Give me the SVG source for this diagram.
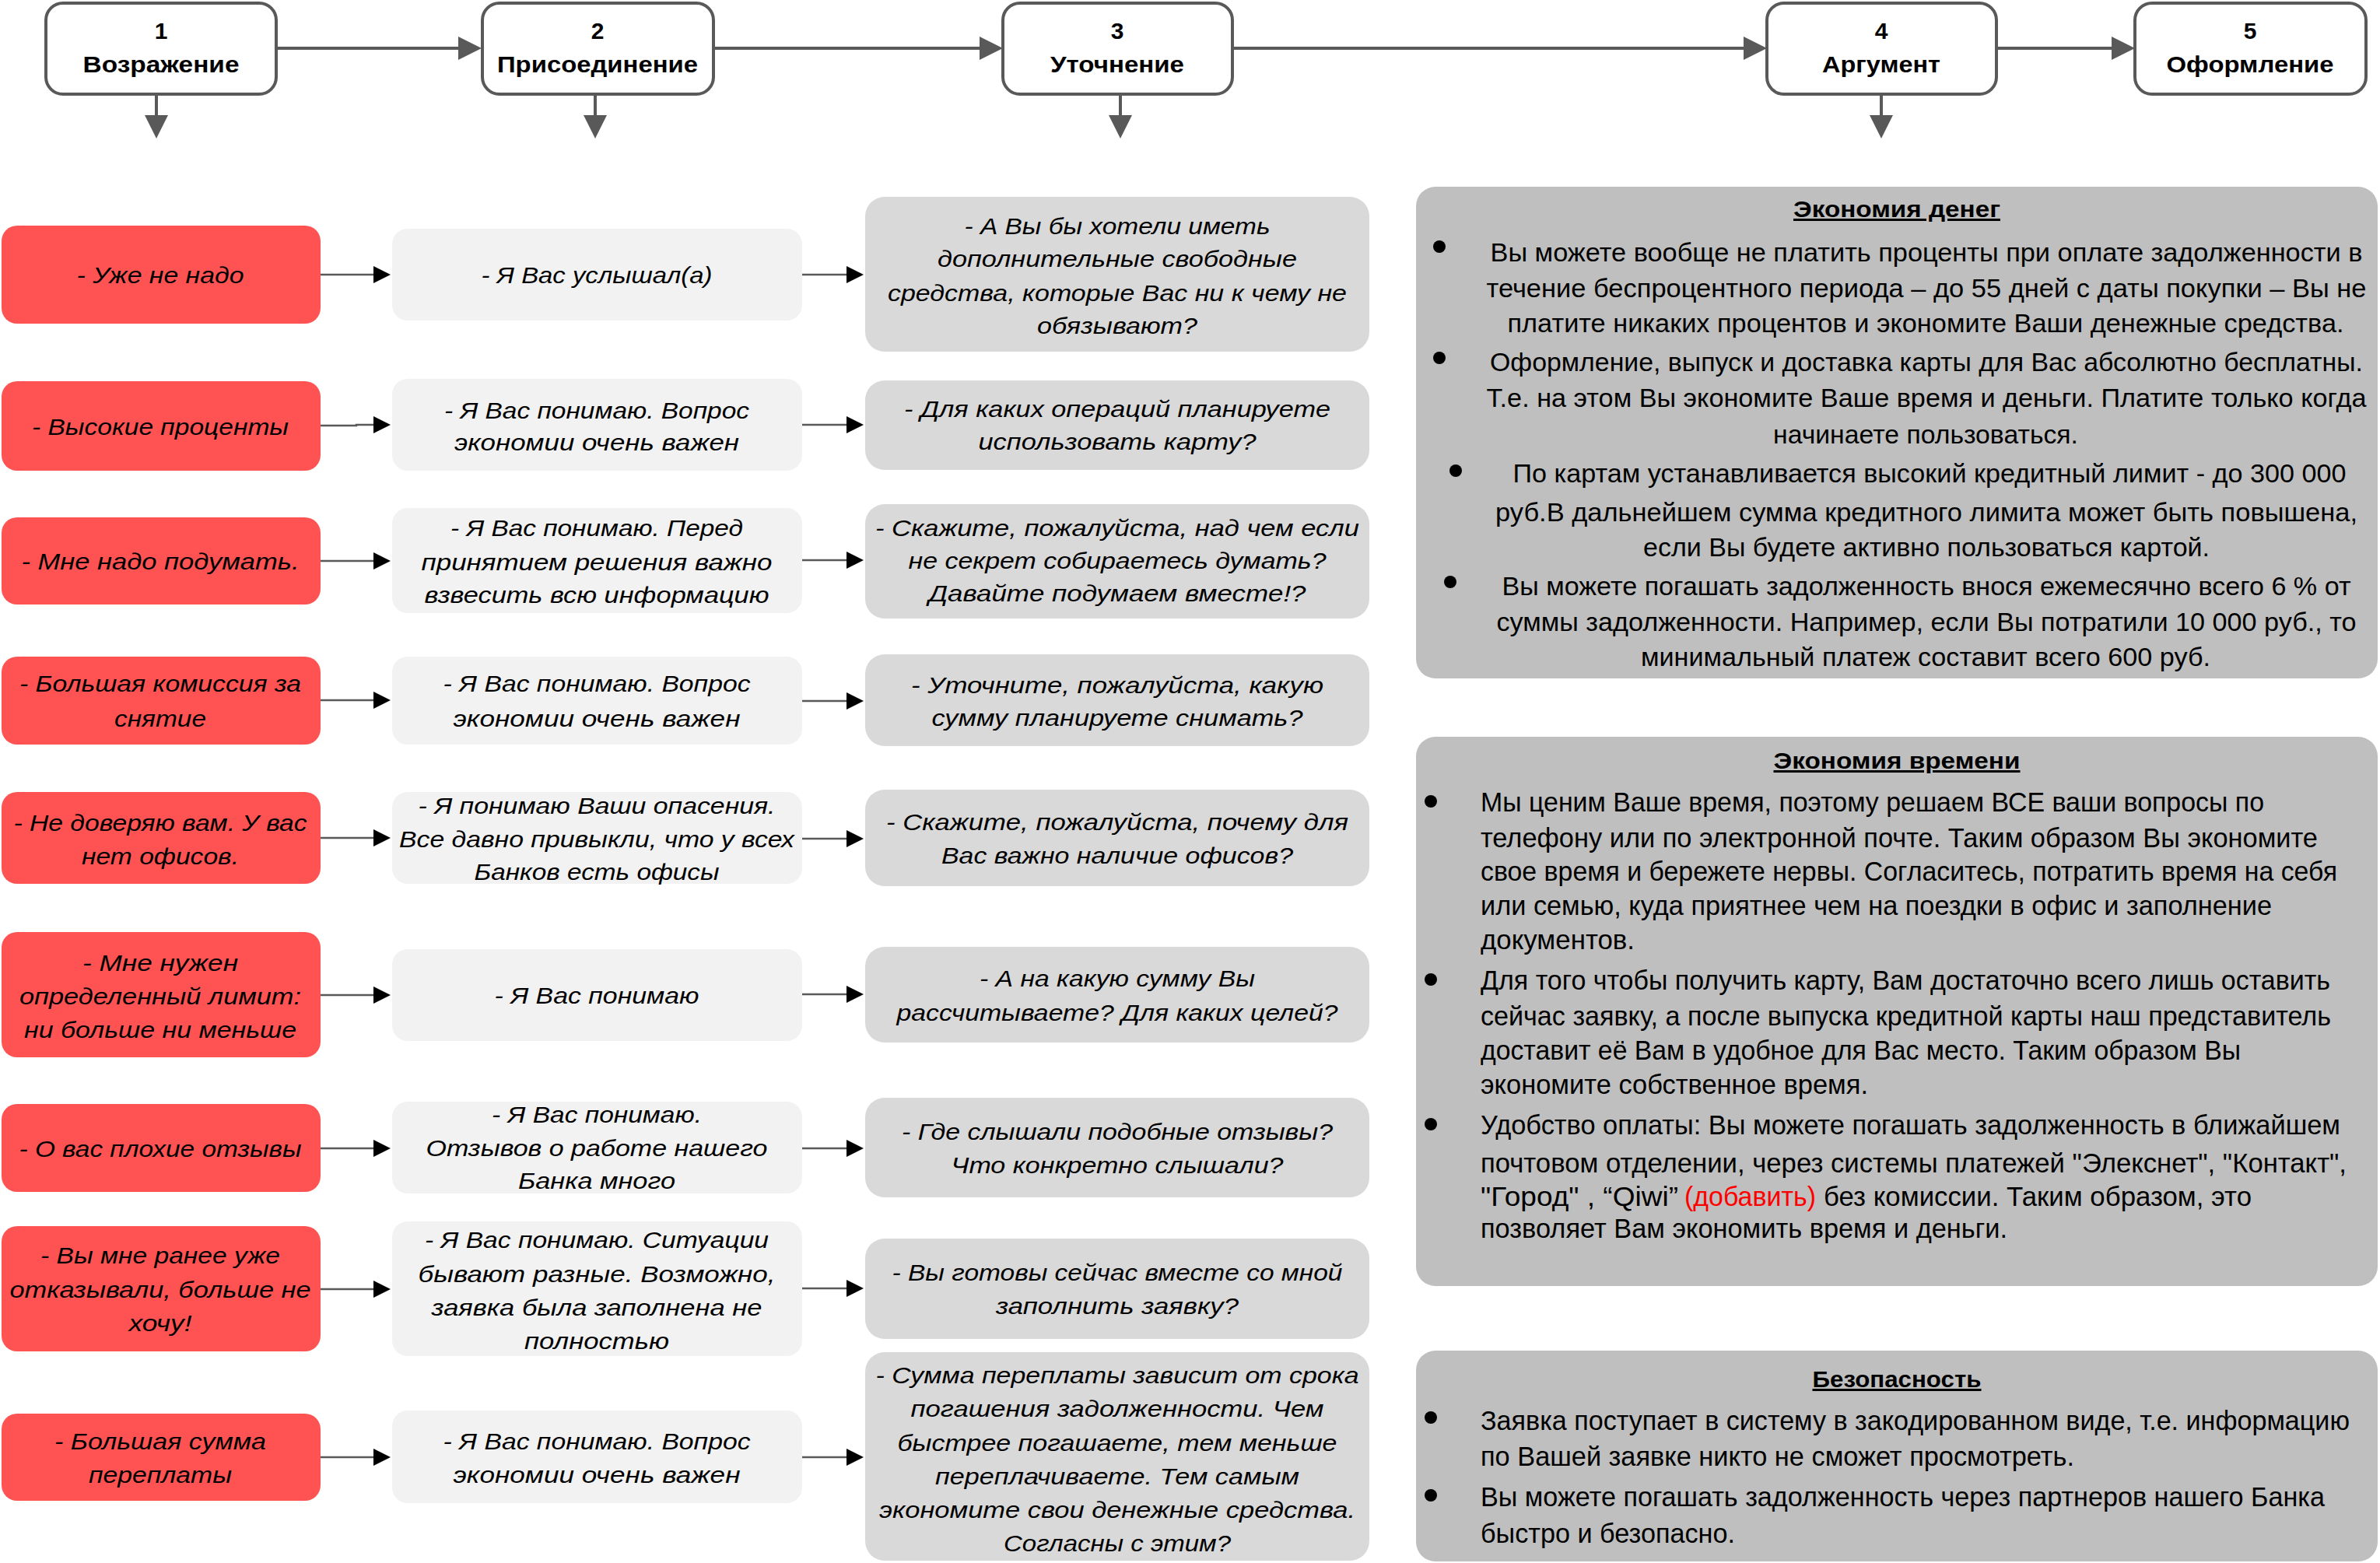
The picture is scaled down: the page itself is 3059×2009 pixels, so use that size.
<svg xmlns="http://www.w3.org/2000/svg" width="3059" height="2009" viewBox="0 0 3059 2009">
<style>
text{font-family:'Liberation Sans',Arial,sans-serif;fill:#000}
.hd{fill:#fff;stroke:#595959;stroke-width:4}
.r{fill:#FF5353}.m{fill:#F2F2F2}.q{fill:#D9D9D9}.p{fill:#BFBFBF}
.hn{font-weight:bold;font-size:30px;text-anchor:middle}
.ti{font-style:italic;font-size:30px;text-anchor:middle}
.tb{font-size:35px}
.tc{font-size:33px;text-anchor:middle}
.tt{font-weight:bold;font-size:30px;text-anchor:middle;text-decoration:underline}
.big{fill:none;stroke:#595959;stroke-width:4}
.sm{fill:none;stroke:#595959;stroke-width:2.5}
.red{fill:#FF0000}
</style>
<defs>
<marker id="ab" markerUnits="userSpaceOnUse" viewBox="0 0 30 30" markerWidth="30" markerHeight="30" refX="20" refY="15" orient="auto"><path d="M0,0 L30,15 L0,30 z" fill="#595959"/></marker>
<marker id="as" markerUnits="userSpaceOnUse" viewBox="0 0 22 22" markerWidth="22" markerHeight="22" refX="12" refY="11" orient="auto"><path d="M0,0 L22,11 L0,22 z" fill="#000"/></marker>
</defs>
<rect width="3059" height="2009" fill="#fff"/>

<g id="connectors">
<line class="big" x1="355" y1="62" x2="609" y2="62" marker-end="url(#ab)"/>
<line class="big" x1="917" y1="62" x2="1279" y2="62" marker-end="url(#ab)"/>
<line class="big" x1="1584" y1="62" x2="2261" y2="62" marker-end="url(#ab)"/>
<line class="big" x1="2566" y1="62" x2="2734" y2="62" marker-end="url(#ab)"/>
<line class="big" x1="201" y1="121" x2="201" y2="168" marker-end="url(#ab)"/>
<line class="big" x1="765" y1="121" x2="765" y2="168" marker-end="url(#ab)"/>
<line class="big" x1="1440" y1="121" x2="1440" y2="168" marker-end="url(#ab)"/>
<line class="big" x1="2418" y1="121" x2="2418" y2="168" marker-end="url(#ab)"/>
<line class="sm" x1="412" y1="353" x2="492" y2="353" marker-end="url(#as)"/>
<line class="sm" x1="1031" y1="353" x2="1100" y2="353" marker-end="url(#as)"/>
<polyline class="sm" points="412,547 458,547 458,546 492,546" marker-end="url(#as)"/>
<line class="sm" x1="1031" y1="546" x2="1100" y2="546" marker-end="url(#as)"/>
<line class="sm" x1="412" y1="721" x2="492" y2="721" marker-end="url(#as)"/>
<line class="sm" x1="1031" y1="720" x2="1100" y2="720" marker-end="url(#as)"/>
<line class="sm" x1="412" y1="900" x2="492" y2="900" marker-end="url(#as)"/>
<line class="sm" x1="1031" y1="901" x2="1100" y2="901" marker-end="url(#as)"/>
<line class="sm" x1="412" y1="1077" x2="492" y2="1077" marker-end="url(#as)"/>
<line class="sm" x1="1031" y1="1078" x2="1100" y2="1078" marker-end="url(#as)"/>
<line class="sm" x1="412" y1="1279" x2="492" y2="1279" marker-end="url(#as)"/>
<line class="sm" x1="1031" y1="1278" x2="1100" y2="1278" marker-end="url(#as)"/>
<line class="sm" x1="412" y1="1476" x2="492" y2="1476" marker-end="url(#as)"/>
<line class="sm" x1="1031" y1="1476" x2="1100" y2="1476" marker-end="url(#as)"/>
<line class="sm" x1="412" y1="1657" x2="492" y2="1657" marker-end="url(#as)"/>
<line class="sm" x1="1031" y1="1656" x2="1100" y2="1656" marker-end="url(#as)"/>
<line class="sm" x1="412" y1="1873" x2="492" y2="1873" marker-end="url(#as)"/>
<line class="sm" x1="1031" y1="1873" x2="1100" y2="1873" marker-end="url(#as)"/>
</g>

<g id="step1"><rect class="hd" x="59" y="4" width="296" height="117" rx="22"/><text class="hn" x="207" y="50">1</text><text class="hn" x="207" y="93" textLength="201" lengthAdjust="spacingAndGlyphs">Возражение</text></g>
<g id="step2"><rect class="hd" x="620" y="4" width="297" height="117" rx="22"/><text class="hn" x="768" y="50">2</text><text class="hn" x="768" y="93" textLength="258" lengthAdjust="spacingAndGlyphs">Присоединение</text></g>
<g id="step3"><rect class="hd" x="1289" y="4" width="295" height="117" rx="22"/><text class="hn" x="1436" y="50">3</text><text class="hn" x="1436" y="93" textLength="172" lengthAdjust="spacingAndGlyphs">Уточнение</text></g>
<g id="step4"><rect class="hd" x="2271" y="4" width="295" height="117" rx="22"/><text class="hn" x="2418" y="50">4</text><text class="hn" x="2418" y="93" textLength="152" lengthAdjust="spacingAndGlyphs">Аргумент</text></g>
<g id="step5"><rect class="hd" x="2744" y="4" width="297" height="117" rx="22"/><text class="hn" x="2892" y="50">5</text><text class="hn" x="2892" y="93" textLength="215" lengthAdjust="spacingAndGlyphs">Оформление</text></g>

<g id="obj1"><rect class="r" x="2" y="290" width="410" height="126" rx="20"/><text class="ti" x="206" y="364" textLength="215" lengthAdjust="spacingAndGlyphs">- Уже не надо</text></g>
<g id="obj2"><rect class="r" x="2" y="490" width="410" height="115" rx="20"/><text class="ti" x="206" y="559" textLength="330" lengthAdjust="spacingAndGlyphs">- Высокие проценты</text></g>
<g id="obj3"><rect class="r" x="2" y="665" width="410" height="112" rx="20"/><text class="ti" x="206" y="732" textLength="357" lengthAdjust="spacingAndGlyphs">- Мне надо подумать.</text></g>
<g id="obj4"><rect class="r" x="2" y="844" width="410" height="113" rx="20"/><text class="ti" x="206" y="889" textLength="362" lengthAdjust="spacingAndGlyphs">- Большая комиссия за</text><text class="ti" x="206" y="934" textLength="118" lengthAdjust="spacingAndGlyphs">снятие</text></g>
<g id="obj5"><rect class="r" x="2" y="1018" width="410" height="118" rx="20"/><text class="ti" x="206" y="1068" textLength="377" lengthAdjust="spacingAndGlyphs">- Не доверяю вам. У вас</text><text class="ti" x="206" y="1111" textLength="202" lengthAdjust="spacingAndGlyphs">нет офисов.</text></g>
<g id="obj6"><rect class="r" x="2" y="1198" width="410" height="161" rx="20"/><text class="ti" x="206" y="1248" textLength="200" lengthAdjust="spacingAndGlyphs">- Мне нужен</text><text class="ti" x="206" y="1291" textLength="362" lengthAdjust="spacingAndGlyphs">определенный лимит:</text><text class="ti" x="206" y="1334" textLength="350" lengthAdjust="spacingAndGlyphs">ни больше ни меньше</text></g>
<g id="obj7"><rect class="r" x="2" y="1419" width="410" height="113" rx="20"/><text class="ti" x="206" y="1487" textLength="363" lengthAdjust="spacingAndGlyphs">- О вас плохие отзывы</text></g>
<g id="obj8"><rect class="r" x="2" y="1576" width="410" height="161" rx="20"/><text class="ti" x="206" y="1624" textLength="308" lengthAdjust="spacingAndGlyphs">- Вы мне ранее уже</text><text class="ti" x="206" y="1668" textLength="387" lengthAdjust="spacingAndGlyphs">отказывали, больше не</text><text class="ti" x="206" y="1711" textLength="81" lengthAdjust="spacingAndGlyphs">хочу!</text></g>
<g id="obj9"><rect class="r" x="2" y="1817" width="410" height="112" rx="20"/><text class="ti" x="206" y="1863" textLength="272" lengthAdjust="spacingAndGlyphs">- Большая сумма</text><text class="ti" x="206" y="1906" textLength="184" lengthAdjust="spacingAndGlyphs">переплаты</text></g>

<g id="join1"><rect class="m" x="504" y="294" width="527" height="118" rx="20"/><text class="ti" x="767" y="364" textLength="297" lengthAdjust="spacingAndGlyphs">- Я Вас услышал(а)</text></g>
<g id="join2"><rect class="m" x="504" y="487" width="527" height="118" rx="20"/><text class="ti" x="767" y="538" textLength="392" lengthAdjust="spacingAndGlyphs">- Я Вас понимаю. Вопрос</text><text class="ti" x="767" y="579" textLength="366" lengthAdjust="spacingAndGlyphs">экономии очень важен</text></g>
<g id="join3"><rect class="m" x="504" y="653" width="527" height="135" rx="20"/><text class="ti" x="767" y="689" textLength="376" lengthAdjust="spacingAndGlyphs">- Я Вас понимаю. Перед</text><text class="ti" x="767" y="733" textLength="451" lengthAdjust="spacingAndGlyphs">принятием решения важно</text><text class="ti" x="767" y="775" textLength="443" lengthAdjust="spacingAndGlyphs">взвесить всю информацию</text></g>
<g id="join4"><rect class="m" x="504" y="844" width="527" height="113" rx="20"/><text class="ti" x="767" y="889" textLength="395" lengthAdjust="spacingAndGlyphs">- Я Вас понимаю. Вопрос</text><text class="ti" x="767" y="934" textLength="369" lengthAdjust="spacingAndGlyphs">экономии очень важен</text></g>
<g id="join5"><rect class="m" x="504" y="1018" width="527" height="118" rx="20"/><text class="ti" x="767" y="1046" textLength="459" lengthAdjust="spacingAndGlyphs">- Я понимаю Ваши опасения.</text><text class="ti" x="767" y="1089" textLength="508" lengthAdjust="spacingAndGlyphs">Все давно привыкли, что у всех</text><text class="ti" x="767" y="1131" textLength="315" lengthAdjust="spacingAndGlyphs">Банков есть офисы</text></g>
<g id="join6"><rect class="m" x="504" y="1220" width="527" height="118" rx="20"/><text class="ti" x="767" y="1290" textLength="263" lengthAdjust="spacingAndGlyphs">- Я Вас понимаю</text></g>
<g id="join7"><rect class="m" x="504" y="1416" width="527" height="118" rx="20"/><text class="ti" x="767" y="1443" textLength="270" lengthAdjust="spacingAndGlyphs">- Я Вас понимаю.</text><text class="ti" x="767" y="1486" textLength="439" lengthAdjust="spacingAndGlyphs">Отзывов о работе нашего</text><text class="ti" x="767" y="1528" textLength="202" lengthAdjust="spacingAndGlyphs">Банка много</text></g>
<g id="join8"><rect class="m" x="504" y="1570" width="527" height="173" rx="20"/><text class="ti" x="767" y="1604" textLength="442" lengthAdjust="spacingAndGlyphs">- Я Вас понимаю. Ситуации</text><text class="ti" x="767" y="1648" textLength="459" lengthAdjust="spacingAndGlyphs">бывают разные. Возможно,</text><text class="ti" x="767" y="1691" textLength="425" lengthAdjust="spacingAndGlyphs">заявка была заполнена не</text><text class="ti" x="767" y="1734" textLength="186" lengthAdjust="spacingAndGlyphs">полностью</text></g>
<g id="join9"><rect class="m" x="504" y="1813" width="527" height="119" rx="20"/><text class="ti" x="767" y="1863" textLength="395" lengthAdjust="spacingAndGlyphs">- Я Вас понимаю. Вопрос</text><text class="ti" x="767" y="1906" textLength="369" lengthAdjust="spacingAndGlyphs">экономии очень важен</text></g>

<g id="ask1"><rect class="q" x="1112" y="253" width="648" height="199" rx="25"/><text class="ti" x="1436" y="301" textLength="393" lengthAdjust="spacingAndGlyphs">- А Вы бы хотели иметь</text><text class="ti" x="1436" y="343" textLength="462" lengthAdjust="spacingAndGlyphs">дополнительные свободные</text><text class="ti" x="1436" y="387" textLength="590" lengthAdjust="spacingAndGlyphs">средства, которые Вас ни к чему не</text><text class="ti" x="1436" y="429" textLength="206" lengthAdjust="spacingAndGlyphs">обязывают?</text></g>
<g id="ask2"><rect class="q" x="1112" y="489" width="648" height="115" rx="25"/><text class="ti" x="1436" y="536" textLength="548" lengthAdjust="spacingAndGlyphs">- Для каких операций планируете</text><text class="ti" x="1436" y="578" textLength="357" lengthAdjust="spacingAndGlyphs">использовать карту?</text></g>
<g id="ask3"><rect class="q" x="1112" y="648" width="648" height="147" rx="25"/><text class="ti" x="1436" y="689" textLength="622" lengthAdjust="spacingAndGlyphs">- Скажите, пожалуйста, над чем если</text><text class="ti" x="1436" y="731" textLength="537" lengthAdjust="spacingAndGlyphs">не секрет собираетесь думать?</text><text class="ti" x="1436" y="773" textLength="485" lengthAdjust="spacingAndGlyphs">Давайте подумаем вместе!?</text></g>
<g id="ask4"><rect class="q" x="1112" y="841" width="648" height="118" rx="25"/><text class="ti" x="1436" y="891" textLength="530" lengthAdjust="spacingAndGlyphs">- Уточните, пожалуйста, какую</text><text class="ti" x="1436" y="933" textLength="477" lengthAdjust="spacingAndGlyphs">сумму планируете снимать?</text></g>
<g id="ask5"><rect class="q" x="1112" y="1015" width="648" height="124" rx="25"/><text class="ti" x="1436" y="1067" textLength="594" lengthAdjust="spacingAndGlyphs">- Скажите, пожалуйста, почему для</text><text class="ti" x="1436" y="1110" textLength="452" lengthAdjust="spacingAndGlyphs">Вас важно наличие офисов?</text></g>
<g id="ask6"><rect class="q" x="1112" y="1217" width="648" height="123" rx="25"/><text class="ti" x="1436" y="1268" textLength="354" lengthAdjust="spacingAndGlyphs">- А на какую сумму Вы</text><text class="ti" x="1436" y="1312" textLength="567" lengthAdjust="spacingAndGlyphs">рассчитываете? Для каких целей?</text></g>
<g id="ask7"><rect class="q" x="1112" y="1411" width="648" height="128" rx="25"/><text class="ti" x="1436" y="1465" textLength="554" lengthAdjust="spacingAndGlyphs">- Где слышали подобные отзывы?</text><text class="ti" x="1436" y="1508" textLength="427" lengthAdjust="spacingAndGlyphs">Что конкретно слышали?</text></g>
<g id="ask8"><rect class="q" x="1112" y="1592" width="648" height="129" rx="25"/><text class="ti" x="1436" y="1646" textLength="579" lengthAdjust="spacingAndGlyphs">- Вы готовы сейчас вместе со мной</text><text class="ti" x="1436" y="1689" textLength="312" lengthAdjust="spacingAndGlyphs">заполнить заявку?</text></g>
<g id="ask9"><rect class="q" x="1112" y="1738" width="648" height="268" rx="25"/><text class="ti" x="1436" y="1778" textLength="621" lengthAdjust="spacingAndGlyphs">- Сумма переплаты зависит от срока</text><text class="ti" x="1436" y="1821" textLength="531" lengthAdjust="spacingAndGlyphs">погашения задолженности. Чем</text><text class="ti" x="1436" y="1865" textLength="565" lengthAdjust="spacingAndGlyphs">быстрее погашаете, тем меньше</text><text class="ti" x="1436" y="1908" textLength="468" lengthAdjust="spacingAndGlyphs">переплачиваете. Тем самым</text><text class="ti" x="1436" y="1951" textLength="612" lengthAdjust="spacingAndGlyphs">экономите свои денежные средства.</text><text class="ti" x="1436" y="1994" textLength="292" lengthAdjust="spacingAndGlyphs">Согласны с этим?</text></g>

<g id="money">
<rect class="p" x="1820" y="240" width="1236" height="632" rx="25"/>
<text class="tt" x="2438" y="279" textLength="266" lengthAdjust="spacingAndGlyphs">Экономия денег</text>
<circle cx="1850" cy="317" r="8"/><circle cx="1850" cy="460" r="8"/><circle cx="1871" cy="605" r="8"/><circle cx="1864" cy="748" r="8"/>
<text class="tc" x="2476" y="336" textLength="1121" lengthAdjust="spacingAndGlyphs">Вы можете вообще не платить проценты при оплате задолженности в</text>
<text class="tc" x="2476" y="382" textLength="1131" lengthAdjust="spacingAndGlyphs">течение беспроцентного периода – до 55 дней с даты покупки – Вы не</text>
<text class="tc" x="2475" y="427" textLength="1075" lengthAdjust="spacingAndGlyphs">платите никаких процентов и экономите Ваши денежные средства.</text>
<text class="tc" x="2476" y="477" textLength="1122" lengthAdjust="spacingAndGlyphs">Оформление, выпуск и доставка карты для Вас абсолютно бесплатны.</text>
<text class="tc" x="2476" y="523" textLength="1131" lengthAdjust="spacingAndGlyphs">Т.е. на этом Вы экономите Ваше время и деньги. Платите только когда</text>
<text class="tc" x="2475" y="570" textLength="392" lengthAdjust="spacingAndGlyphs">начинаете пользоваться.</text>
<text class="tc" x="2480" y="620" textLength="1071" lengthAdjust="spacingAndGlyphs">По картам устанавливается высокий кредитный лимит - до 300 000</text>
<text class="tc" x="2476" y="670" textLength="1108" lengthAdjust="spacingAndGlyphs">руб.В дальнейшем сумма кредитного лимита может быть повышена,</text>
<text class="tc" x="2476" y="715" textLength="728" lengthAdjust="spacingAndGlyphs">если Вы будете активно пользоваться картой.</text>
<text class="tc" x="2476" y="765" textLength="1091" lengthAdjust="spacingAndGlyphs">Вы можете погашать задолженность внося ежемесячно всего 6 % от</text>
<text class="tc" x="2476" y="811" textLength="1105" lengthAdjust="spacingAndGlyphs">суммы задолженности. Например, если Вы потратили 10 000 руб., то</text>
<text class="tc" x="2475" y="856" textLength="732" lengthAdjust="spacingAndGlyphs">минимальный платеж составит всего 600 руб.</text>
</g>

<g id="time">
<rect class="p" x="1820" y="947" width="1236" height="706" rx="25"/>
<text class="tt" x="2438" y="988" textLength="317" lengthAdjust="spacingAndGlyphs">Экономия времени</text>
<circle cx="1839" cy="1030" r="8"/><circle cx="1839" cy="1259" r="8"/><circle cx="1839" cy="1445" r="8"/>
<text class="tb" x="1903" y="1043" textLength="1007" lengthAdjust="spacingAndGlyphs">Мы ценим Ваше время, поэтому решаем ВСЕ ваши вопросы по</text>
<text class="tb" x="1903" y="1089" textLength="1076" lengthAdjust="spacingAndGlyphs">телефону или по электронной почте. Таким образом Вы экономите</text>
<text class="tb" x="1903" y="1132" textLength="1101" lengthAdjust="spacingAndGlyphs">свое время и бережете нервы. Согласитесь, потратить время на себя</text>
<text class="tb" x="1903" y="1176" textLength="1017" lengthAdjust="spacingAndGlyphs">или семью, куда приятнее чем на поездки в офис и заполнение</text>
<text class="tb" x="1903" y="1220" textLength="198" lengthAdjust="spacingAndGlyphs">документов.</text>
<text class="tb" x="1903" y="1272" textLength="1092" lengthAdjust="spacingAndGlyphs">Для того чтобы получить карту, Вам достаточно всего лишь оставить</text>
<text class="tb" x="1903" y="1318" textLength="1093" lengthAdjust="spacingAndGlyphs">сейчас заявку, а после выпуска кредитной карты наш представитель</text>
<text class="tb" x="1903" y="1362" textLength="977" lengthAdjust="spacingAndGlyphs">доставит её Вам в удобное для Вас место. Таким образом Вы</text>
<text class="tb" x="1903" y="1406" textLength="498" lengthAdjust="spacingAndGlyphs">экономите собственное время.</text>
<text class="tb" x="1903" y="1458" textLength="1105" lengthAdjust="spacingAndGlyphs">Удобство оплаты: Вы можете погашать задолженность в ближайшем</text>
<text class="tb" x="1903" y="1507" textLength="1113" lengthAdjust="spacingAndGlyphs">почтовом отделении, через системы платежей "Элекснет", "Контакт",</text>
<text class="tb" x="1903" y="1550" textLength="254" lengthAdjust="spacingAndGlyphs">"Город" , “Qiwi”</text>
<text class="tb red" x="2165" y="1550" textLength="169" lengthAdjust="spacingAndGlyphs">(добавить)</text>
<text class="tb" x="2344" y="1550" textLength="550" lengthAdjust="spacingAndGlyphs">без комиссии. Таким образом, это</text>
<text class="tb" x="1903" y="1591" textLength="677" lengthAdjust="spacingAndGlyphs">позволяет Вам экономить время и деньги.</text>
</g>

<g id="security">
<rect class="p" x="1820" y="1736" width="1236" height="271" rx="25"/>
<text class="tt" x="2438" y="1783" textLength="217" lengthAdjust="spacingAndGlyphs">Безопасность</text>
<circle cx="1839" cy="1822" r="8"/><circle cx="1839" cy="1922" r="8"/>
<text class="tb" x="1903" y="1838" textLength="1117" lengthAdjust="spacingAndGlyphs">Заявка поступает в систему в закодированном виде, т.е. информацию</text>
<text class="tb" x="1903" y="1884" textLength="763" lengthAdjust="spacingAndGlyphs">по Вашей заявке никто не сможет просмотреть.</text>
<text class="tb" x="1903" y="1936" textLength="1085" lengthAdjust="spacingAndGlyphs">Вы можете погашать задолженность через партнеров нашего Банка</text>
<text class="tb" x="1903" y="1983" textLength="327" lengthAdjust="spacingAndGlyphs">быстро и безопасно.</text>
</g>
</svg>
